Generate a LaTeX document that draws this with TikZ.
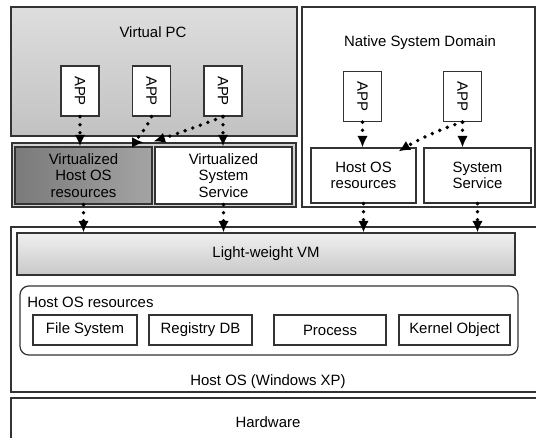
\documentclass[tikz,border=0pt]{standalone}
\usepackage{fontspec}
\setmainfont{Liberation Sans}
\usepackage{tikz}
\usetikzlibrary{arrows.meta}

\definecolor{pctop}{HTML}{DEDEDE}
\definecolor{pcbot}{HTML}{C2C2C2}
\definecolor{vframe}{HTML}{D2D2D2}
\definecolor{vdark}{HTML}{7A7A7A}
\definecolor{vlight}{HTML}{A4A4A4}
\definecolor{vmtop}{HTML}{F0F0F0}
\definecolor{vmbot}{HTML}{C8C8C8}

\begin{document}
\begin{tikzpicture}[x=0.02cm, y=-0.02cm, >={Latex[length=6.5pt,width=6pt]},
		font=\fontsize{8.5}{9.5}\selectfont,
		box/.style 2 args={draw=black!80, line width=0.7pt, inner sep=0pt, align=center,
			minimum width=#1*0.02cm, minimum height=#2*0.02cm},
		app/.style={box={38}{50}, fill=white, node contents={\rotatebox{-90}{APP}}},
		flow/.style={->, line width=2.2pt, dash pattern=on 0pt off 4.6pt, line cap=round}]
	\clip (0,0) rectangle (536,437);

	% virtual pc
	\node[box={286}{129}, top color=pctop, bottom color=pcbot] (vpc) at (154,71.5) {};
	\node (vpclbl) at (153,32) {Virtual PC};
	\node (app1) at (80,91) [app];
	\node (app2) at (151.5,91) [app];
	\node (app3) at (223,91) [app];

	\node[box={284}{64}, fill=vframe] (vwrap) at (154,175) {};
	\node[box={137}{57}, left color=vdark, right color=vlight] (vhost) at (83.5,175.5) {Virtualized\\Host OS\\resources};
	\node[box={137}{57}, fill=white] (vsvc) at (223.5,175.5) {Virtualized\\System\\Service};

	% native side
	\node[box={233}{200}, fill=white] (native) at (418.5,107) {};
	\node (nativelbl) at (420,43) {Native System Domain};
	\node (napp1) at (362.5,96.5) [app];
	\node (napp2) at (462.5,96.5) [app];
	\node[box={105}{55}, fill=white] (nhost) at (363.5,175.5) {Host OS\\resources};
	\node[box={107}{55}, fill=white] (nsvc) at (477.5,175.5) {System\\Service};

	% host os
	\node[box={529}{165}, fill=white] (hostos) at (275.5,309.5) {};
	\node[box={498}{42}, top color=vmtop, bottom color=vmbot] (vm) at (266,254) {Light-weight VM};
	\node[box={498}{69}, fill=white, rounded corners=5pt] (res) at (269,320.5) {};
	\node[anchor=west, inner sep=0pt] (reslbl) at (27,302) {Host OS resources};
	\node[box={104}{30}, fill=white] (fs) at (85,330) {File System};
	\node[box={103}{30}, fill=white] (reg) at (200.5,330) {Registry DB};
	\node[box={112}{30}, fill=white] (proc) at (330,330) {Process};
	\node[box={111}{30}, fill=white] (kern) at (454.5,330) {Kernel Object};
	\node (hostoslbl) at (268,382) {Host OS (Windows XP)};

	\node[box={529}{52}, fill=white] (hw) at (275.5,424) {};
	\node (hwlbl) at (268,422) {Hardware};

	% calls
	\draw[flow] (app1.south) -- (app1.south |- vhost.north);
	\draw[flow] (app2.south) .. controls +(-6,14) and +(-10,0) .. ([shift={(-9,-4)}]vhost.north east);
	\draw[flow] (app3.south) .. controls +(-10,4) and +(25,-8) .. ([shift={(1,-5)}]vhost.north east);
	\draw[flow] (app3.south) -- (app3.south |- vsvc.north);
	\draw[flow] (napp1.south) -- (napp1.south |- nhost.north);
	\draw[flow] (napp2.south) .. controls +(-20,6) and +(20,-12) .. ([shift={(-18,4)}]nhost.north east);
	\draw[flow] (napp2.south) -- (napp2.south |- nsvc.north);

	\draw[flow] (vhost.south) -- (vhost.south |- vm.north);
	\draw[flow] (vsvc.south) -- (vsvc.south |- vm.north);
	\draw[flow] (nhost.south) -- (nhost.south |- vm.north);
	\draw[flow] (nsvc.south) -- (nsvc.south |- vm.north);
\end{tikzpicture}
\end{document}
